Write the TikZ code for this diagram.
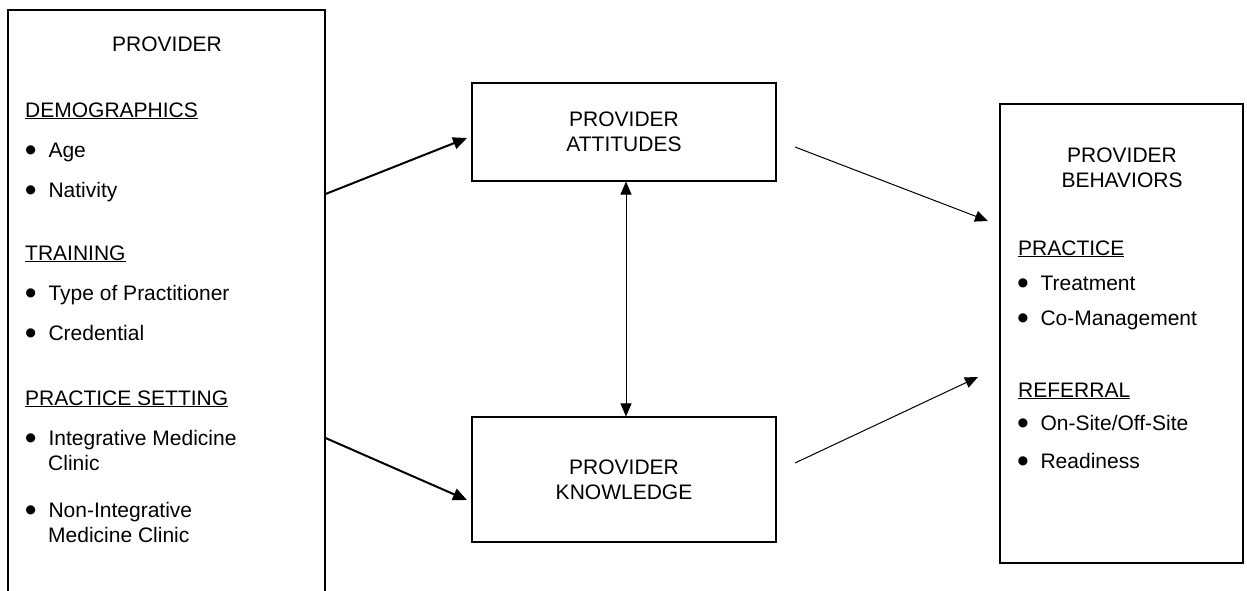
\documentclass[tikz,border=0pt]{standalone}
\usepackage{fontspec}
\usepackage{graphicx}
\setmainfont{Liberation Sans}
\usetikzlibrary{arrows.meta}
\tikzset{box/.style={draw, line width=1.1pt, inner sep=0pt, align=center,
   font=\fontsize{21}{25}\selectfont},
 txt/.style={anchor=base west, inner sep=0pt, font=\fontsize{21}{25}\selectfont},
 title/.style={anchor=base, inner sep=0pt, font=\fontsize{21}{25}\selectfont},
 heavy/.style={line width=2pt, -{Triangle[length=14pt,width=12pt]}},
 light/.style={line width=1pt, -{Triangle[length=13pt,width=11pt]}},
 both/.style={line width=1pt, {Triangle[length=13pt,width=11pt]}-{Triangle[length=13pt,width=11pt]}},
}
\newcommand{\bul}{\makebox[7.35pt][c]{\raisebox{-4.2pt}{\scalebox{1.6}{\textbullet}}}\hspace{14pt}}

\begin{document}
\begin{tikzpicture}[x=1pt,y=-1pt]
    \useasboundingbox (0,0) rectangle (1247,590);
    \fill[white] (0,0) rectangle (1247,590);
    \clip (0,0) rectangle (1247,590);

    % boxes
    \node[box, minimum width=317, minimum height=600] (prov) at (166.5,310) {};
    \node[box, minimum width=304, minimum height=98] (att) at (624,132) {PROVIDER\\ATTITUDES};
    \node[box, minimum width=304, minimum height=125] (know) at (624,479.5) {PROVIDER\\KNOWLEDGE};
    \node[box, minimum width=243, minimum height=459] (beh) at (1121.5,333.5) {};

    % left box text
    \node[title] (provt) at (167,51) {PROVIDER};
    \node[txt] (demo) at (25,117) {\underline{DEMOGRAPHICS}};
    \node[txt] (age) at (27,157) {\bul Age};
    \node[txt] (nat) at (27,197) {\bul Nativity};
    \node[txt] (train) at (25,260) {\underline{TRAINING}};
    \node[txt] (type) at (27,300) {\bul Type of Practitioner};
    \node[txt] (cred) at (27,340) {\bul Credential};
    \node[txt] (sett) at (25,405) {\underline{PRACTICE SETTING}};
    \node[txt] (integ) at (27,445) {\bul Integrative Medicine};
    \node[txt] (integb) at (48,470) {Clinic};
    \node[txt] (nonint) at (27,517) {\bul Non-Integrative};
    \node[txt] (nonintb) at (48,542) {Medicine Clinic};

    % right box text
    \node[title] (beht) at (1122,162) {PROVIDER};
    \node[title] (behtb) at (1122,187) {BEHAVIORS};
    \node[txt] (prac) at (1018,255) {\underline{PRACTICE}};
    \node[txt] (treat) at (1019,290) {\bul Treatment};
    \node[txt] (coman) at (1019,325) {\bul Co-Management};
    \node[txt] (refer) at (1018,397) {\underline{REFERRAL}};
    \node[txt] (onsite) at (1019,430) {\bul On-Site/Off-Site};
    \node[txt] (ready) at (1019,468) {\bul Readiness};

    % connector ends
    \coordinate (a1) at (prov.east |- 0,194);
    \coordinate (a2) at (467,138);
    \coordinate (k1) at (prov.east |- 0,438);
    \coordinate (k2) at (467,500);
    \coordinate (b1) at (795,147);
    \coordinate (b2) at (988,221);
    \coordinate (b3) at (795,463);
    \coordinate (b4) at (978,377);

    \draw[heavy] (a1) -- (a2);
    \draw[heavy] (k1) -- (k2);
    \draw[both] ([xshift=2pt]att.south) -- ([xshift=2pt]know.north);
    \draw[light] (b1) -- (b2);
    \draw[light] (b3) -- (b4);
\end{tikzpicture}
\end{document}
